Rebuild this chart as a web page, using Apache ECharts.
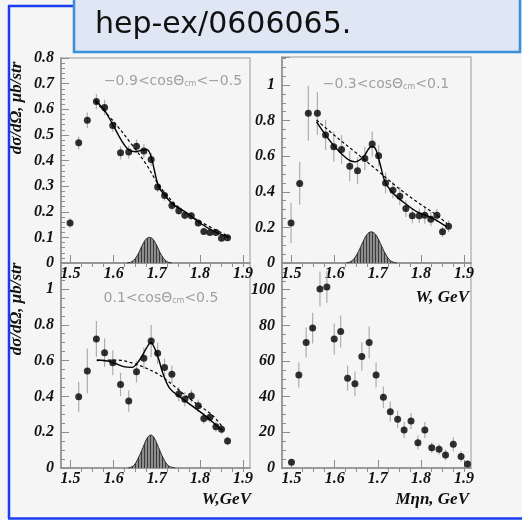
<!DOCTYPE html>
<html>
<head>
<meta charset="utf-8">
<script src="https://cdn.jsdelivr.net/npm/echarts@6/dist/echarts.min.js"></script>
<style>
  html, body { margin: 0; padding: 0; background: #f5f5f5; }
  #chart { width: 522px; height: 520px; }
</style>
</head>
<body>
<div id="chart"></div>
<script>
// ---- data -------------------------------------------------------------
// W bin centres (GeV) of the three angular bins
const wBins = [1.499, 1.519, 1.539, 1.560, 1.579, 1.598, 1.616, 1.635, 1.653, 1.670, 1.687, 1.702,
               1.718, 1.735, 1.751, 1.765, 1.780, 1.796, 1.809, 1.823, 1.837, 1.850, 1.864];

// -0.9 < cos < -0.5
const xsBack  = [0.156, 0.469, 0.557, 0.630, 0.607, 0.537, 0.430, 0.433, 0.456, 0.437, 0.404, 0.297,
                 0.263, 0.224, 0.204, 0.186, 0.184, 0.156, 0.123, 0.119, 0.119, 0.097, 0.099];
const errBack = [0.020, 0.025, 0.030, 0.030, 0.030, 0.026, 0.026, 0.026, 0.026, 0.026, 0.025, 0.020,
                 0.020, 0.018, 0.016, 0.016, 0.015, 0.015, 0.014, 0.013, 0.013, 0.012, 0.012];
const fitBack  = [[1.557, 0.636], [1.580, 0.593], [1.599, 0.537], [1.619, 0.476], [1.634, 0.443],
                  [1.650, 0.434], [1.665, 0.440], [1.677, 0.443], [1.686, 0.420], [1.694, 0.365],
                  [1.704, 0.299], [1.719, 0.263], [1.739, 0.227], [1.770, 0.195], [1.800, 0.156],
                  [1.831, 0.125], [1.868, 0.099]];
const bgBack   = [[1.558, 0.629], [1.599, 0.554], [1.645, 0.456], [1.676, 0.384], [1.699, 0.319],
                  [1.722, 0.267], [1.753, 0.214], [1.800, 0.162], [1.868, 0.103]];
const peakBack = [[1.631, 0], [1.643, 0.006], [1.655, 0.030], [1.666, 0.068], [1.675, 0.093],
                  [1.683, 0.100], [1.691, 0.093], [1.700, 0.068], [1.711, 0.030], [1.723, 0.006], [1.735, 0]];

// -0.3 < cos < 0.1
const xsMid   = [0.225, 0.447, 0.841, 0.841, 0.719, 0.653, 0.638, 0.544, 0.518, 0.587, 0.668, 0.602,
                 0.450, 0.409, 0.375, 0.306, 0.265, 0.265, 0.268, 0.246, 0.268, 0.175, 0.207];
const errMid  = [0.114, 0.120, 0.155, 0.120, 0.084, 0.084, 0.080, 0.085, 0.075, 0.066, 0.070, 0.060,
                 0.060, 0.047, 0.050, 0.047, 0.042, 0.040, 0.047, 0.040, 0.037, 0.028, 0.033];
const fitMid   = [[1.558, 0.793], [1.597, 0.662], [1.628, 0.587], [1.647, 0.568], [1.667, 0.597],
                  [1.685, 0.653], [1.694, 0.645], [1.705, 0.559], [1.717, 0.456], [1.736, 0.390],
                  [1.759, 0.343], [1.791, 0.287], [1.821, 0.259], [1.860, 0.203]];
const bgMid    = [[1.558, 0.803], [1.605, 0.706], [1.651, 0.616], [1.698, 0.522], [1.744, 0.428],
                  [1.791, 0.343], [1.837, 0.268], [1.860, 0.222]];
const peakMid  = [[1.627, 0], [1.640, 0.012], [1.652, 0.050], [1.664, 0.110], [1.675, 0.160],
                  [1.685, 0.175], [1.695, 0.160], [1.706, 0.110], [1.718, 0.050], [1.730, 0.012], [1.744, 0]];

// 0.1 < cos < 0.5 (no point in the first W bin)
const xsFwd   = [null, 0.398, 0.542, 0.721, 0.644, 0.588, 0.467, 0.374, 0.538, 0.613, 0.709, 0.641,
                 0.561, 0.523, 0.413, 0.384, 0.402, 0.348, 0.277, 0.283, 0.231, 0.216, 0.151];
const errFwd  = [null, 0.084, 0.125, 0.100, 0.080, 0.070, 0.065, 0.060, 0.060, 0.060, 0.090, 0.060,
                 0.050, 0.050, 0.040, 0.040, 0.035, 0.035, 0.030, 0.030, 0.028, 0.026, 0.024];
const fitFwd   = [[1.561, 0.603], [1.592, 0.594], [1.623, 0.566], [1.642, 0.562], [1.660, 0.603],
                  [1.676, 0.669], [1.686, 0.700], [1.695, 0.669], [1.705, 0.603], [1.714, 0.529],
                  [1.730, 0.445], [1.753, 0.398], [1.784, 0.343], [1.815, 0.287], [1.846, 0.222], [1.854, 0.212]];
const bgFwd    = [[1.561, 0.600], [1.607, 0.603], [1.645, 0.585], [1.676, 0.557], [1.706, 0.520],
                  [1.737, 0.464], [1.768, 0.402], [1.800, 0.346], [1.831, 0.290], [1.854, 0.222]];
const peakFwd  = [[1.634, 0], [1.646, 0.013], [1.657, 0.055], [1.668, 0.115], [1.678, 0.168],
                  [1.686, 0.184], [1.694, 0.168], [1.704, 0.115], [1.715, 0.055], [1.727, 0.013], [1.743, 0]];

// M(eta n) spectrum
const mBins   = [1.500, 1.517, 1.534, 1.549, 1.566, 1.582, 1.599, 1.614, 1.630, 1.647, 1.663, 1.680, 1.696,
                 1.713, 1.729, 1.746, 1.761, 1.777, 1.793, 1.809, 1.825, 1.842, 1.857, 1.875, 1.893, 1.908];
const counts  = [3.2, 52.2, 70.4, 78.5, 100.4, 101.5, 72.3, 76.6, 50.4, 47.2, 62.6, 70.4, 52.2,
                 39.7, 31.6, 27.3, 21.3, 26.4, 14.2, 21.3, 11.4, 10.5, 7.3, 13.3, 6.4, 2.2];
const errCnt  = [1.5, 7.0, 8.4, 8.6, 9.8, 9.0, 8.7, 9.0, 7.0, 7.0, 8.0, 9.0, 7.0,
                 6.0, 5.5, 5.0, 4.5, 4.5, 4.0, 4.5, 3.0, 3.0, 3.0, 4.0, 3.0, 2.0];

const majorX = [1.5, 1.6, 1.7, 1.8, 1.9];
const minorX = [1.525, 1.55, 1.575, 1.625, 1.65, 1.675, 1.725, 1.75, 1.775, 1.825, 1.85, 1.875, 1.9];

// ---- layout ------------------------------------------------------------
const panels = [
  { grid: { left: 61,  top: 58,  width: 189, height: 205 }, yMax: 0.8,   yInt: 0.1, ySplit: 5 },
  { grid: { left: 282, top: 57,  width: 189, height: 206 }, yMax: 1.157, yInt: 0.2, ySplit: 4 },
  { grid: { left: 61,  top: 263, width: 189, height: 205 }, yMax: 1.145, yInt: 0.2, ySplit: 4 },
  { grid: { left: 282, top: 263, width: 189, height: 205 }, yMax: 115,   yInt: 20,  ySplit: 4 }
];
const X_MIN = 1.478, X_MAX = 1.916;

const AXIS_GREY = '#8c8c8c';
const labelFont = { fontFamily: 'Liberation Serif', fontStyle: 'italic', fontWeight: 'bold', fontSize: 16, color: '#111' };

// vertical hatch used for the resonance contribution
function hatch() {
  const c = document.createElement('canvas');
  c.width = 3; c.height = 4;
  const g = c.getContext('2d');
  g.fillStyle = '#8d8d8d'; g.fillRect(0, 0, 3, 4);
  g.fillStyle = '#3a3a3a'; g.fillRect(0, 0, 1, 4);
  return c;
}
const hatchImg = hatch();

const grids = [], xAxes = [], yAxes = [], series = [];

panels.forEach((p, i) => {
  grids.push(Object.assign({ show: true, borderColor: '#b8b8b8', borderWidth: 1.5, backgroundColor: 'transparent' }, p.grid));
  xAxes.push({
    type: 'value', gridIndex: i, min: X_MIN, max: X_MAX,
    axisLine: { show: true, onZero: false, lineStyle: { color: AXIS_GREY, width: 1.5 } },
    axisTick: { show: true, inside: true, length: 8, customValues: majorX, lineStyle: { color: AXIS_GREY } },
    axisLabel: Object.assign({ customValues: majorX, margin: 3, formatter: v => v.toFixed(1) }, labelFont),
    splitLine: { show: false }
  });
  xAxes.push({
    type: 'value', gridIndex: i, min: X_MIN, max: X_MAX,
    axisLine: { show: false },
    axisTick: { show: true, inside: true, length: 4, customValues: minorX, lineStyle: { color: AXIS_GREY } },
    axisLabel: { show: false },
    splitLine: { show: false }
  });
  yAxes.push({
    type: 'value', gridIndex: i, min: 0, max: p.yMax, interval: p.yInt,
    axisLine: { show: true, onZero: false, lineStyle: { color: AXIS_GREY, width: 1.5 } },
    axisTick: { show: true, inside: true, length: 8, lineStyle: { color: AXIS_GREY } },
    minorTick: { show: true, splitNumber: p.ySplit, length: 4, lineStyle: { color: AXIS_GREY } },
    axisLabel: Object.assign({
      margin: 7, showMaxLabel: p.yMax === 0.8 ? true : false,
      formatter: v => (v === 0 ? '0' : (p.yInt >= 1 ? String(Math.round(v)) : (Math.abs(v - 1) < 1e-9 ? '1' : v.toFixed(1))))
    }, labelFont),
    splitLine: { show: false }
  });
});

function errorBars(panel, xs, ys, es) {
  const data = [];
  xs.forEach((x, k) => { if (ys[k] != null) data.push([x, ys[k] - es[k], ys[k] + es[k]]); });
  return {
    type: 'custom', xAxisIndex: panel * 2, yAxisIndex: panel, data, z: 3, silent: true,
    encode: { x: 0, y: [1, 2] },
    renderItem: (params, api) => {
      const a = api.coord([api.value(0), api.value(1)]);
      const b = api.coord([api.value(0), api.value(2)]);
      return { type: 'line', shape: { x1: a[0], y1: a[1], x2: b[0], y2: b[1] },
               style: { stroke: '#adadad', lineWidth: 1.2 } };
    }
  };
}
function points(panel, xs, ys) {
  const data = [];
  xs.forEach((x, k) => { if (ys[k] != null) data.push([x, ys[k]]); });
  return { type: 'scatter', xAxisIndex: panel * 2, yAxisIndex: panel, data, z: 6,
           symbol: 'circle', symbolSize: 7, itemStyle: { color: '#000' } };
}
function curve(panel, pts, dashed) {
  return { type: 'line', xAxisIndex: panel * 2, yAxisIndex: panel, data: pts, z: 5,
           showSymbol: false, symbol: 'none', smooth: 0.35,
           lineStyle: { color: '#000', width: dashed ? 1.2 : 1.4, type: dashed ? [3, 2.5] : 'solid' } };
}
function peak(panel, pts) {
  return { type: 'line', xAxisIndex: panel * 2, yAxisIndex: panel, data: pts, z: 2,
           showSymbol: false, symbol: 'none', smooth: 0.4,
           lineStyle: { color: '#2a2a2a', width: 1 },
           areaStyle: { color: { image: hatchImg, repeat: 'repeat' }, opacity: 1 } };
}

[[wBins, xsBack, errBack, fitBack, bgBack, peakBack],
 [wBins, xsMid,  errMid,  fitMid,  bgMid,  peakMid],
 [wBins, xsFwd,  errFwd,  fitFwd,  bgFwd,  peakFwd]].forEach((d, i) => {
  series.push(peak(i, d[5]));
  series.push(curve(i, d[4], true));
  series.push(curve(i, d[3], false));
  series.push(errorBars(i, d[0], d[1], d[2]));
  series.push(points(i, d[0], d[1]));
});
series.push(errorBars(3, mBins, counts, errCnt));
series.push(points(3, mBins, counts));

// ---- decorations ----------------------------------------------------------
const nameFont = 'italic bold 17px "Liberation Serif"';
const cutFont = '14px "DejaVu Sans"';
function cutLabel(x, y, lo, hi) {
  return { type: 'text', x, y, z: 20,
    style: { text: '{a|' + lo + '<cosΘ}{s|cm}{a|<' + hi + '}', align: 'center', verticalAlign: 'middle',
      rich: { a: { font: cutFont, fill: '#a0a0a0' }, s: { font: '8px "DejaVu Sans"', fill: '#a0a0a0', padding: [6, 0, 0, 0] } } } };
}
const graphics = [
  // blue slide frame
  { type: 'line', z: 30, shape: { x1: 9, y1: 6, x2: 9, y2: 518.5 }, style: { stroke: '#1b3cf2', lineWidth: 2.5 } },
  { type: 'line', z: 30, shape: { x1: 8, y1: 6, x2: 80, y2: 6 }, style: { stroke: '#1b3cf2', lineWidth: 2.5 } },
  { type: 'line', z: 30, shape: { x1: 8, y1: 518.5, x2: 522, y2: 518.5 }, style: { stroke: '#1b3cf2', lineWidth: 2.5 } },
  // reference box
  { type: 'rect', z: 31, shape: { x: 74, y: -4, width: 446, height: 56 },
    style: { fill: '#dee7f3', stroke: '#3a8fd8', lineWidth: 2.5 } },
  { type: 'text', z: 32, x: 95, y: 25,
    style: { text: 'hep-ex/0606065.', font: '30px "DejaVu Sans"', fill: '#111', verticalAlign: 'middle' } },
  // angular bins
  cutLabel(173, 81, '−0.9', '−0.5'),
  cutLabel(386, 84, '−0.3', '0.1'),
  cutLabel(161, 298, '0.1', '0.5'),
  // y axis titles
  { type: 'text', z: 20, x: 17, y: 108, rotation: Math.PI / 2,
    style: { text: 'dσ/dΩ, μb/str', font: nameFont, fill: '#111', align: 'center', verticalAlign: 'middle' } },
  { type: 'text', z: 20, x: 17, y: 309, rotation: Math.PI / 2,
    style: { text: 'dσ/dΩ, μb/str', font: nameFont, fill: '#111', align: 'center', verticalAlign: 'middle' } },
  // x axis titles
  { type: 'text', z: 20, x: 469, y: 298,
    style: { text: 'W, GeV', font: 'italic bold 17px "Liberation Serif"', fill: '#111', align: 'right', verticalAlign: 'middle' } },
  { type: 'text', z: 20, x: 251, y: 500,
    style: { text: 'W,GeV', font: 'italic bold 17px "Liberation Serif"', fill: '#111', align: 'right', verticalAlign: 'middle' } },
  { type: 'text', z: 20, x: 469, y: 500,
    style: { text: 'Mηn, GeV', font: 'italic bold 17px "Liberation Serif"', fill: '#111', align: 'right', verticalAlign: 'middle' } }
];

const chart = echarts.init(document.getElementById('chart'), null, { renderer: 'canvas' });
chart.setOption({
  backgroundColor: '#f5f5f5',
  animation: false,
  grid: grids,
  xAxis: xAxes,
  yAxis: yAxes,
  series,
  graphic: graphics
});
</script>
</body>
</html>
